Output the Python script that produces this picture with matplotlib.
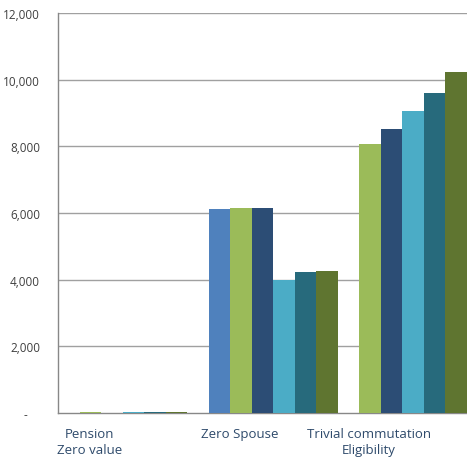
import numpy as np
import matplotlib
matplotlib.use("Agg")
import matplotlib.pyplot as plt
from matplotlib.ticker import FixedLocator, FuncFormatter

categories = ["Pension\nZero value", "Zero Spouse", "Trivial commutation\nEligibility"]
series_1 = [15, 6120, 0]
series_2 = [20, 6140, 8070]
series_3 = [15, 6150, 8530]
series_4 = [20, 3990, 9060]
series_5 = [30, 4220, 9600]
series_6 = [40, 4270, 10220]
y_ticks = [0, 2000, 4000, 6000, 8000, 10000, 12000]

series = [series_1, series_2, series_3, series_4, series_5, series_6]
colors = ["#4f81bd", "#9bbb59", "#2c4d75", "#4bacc6", "#276a7c", "#5f7530"]

plt.rcParams["font.family"] = ["Open Sans", "DejaVu Sans"]

fig = plt.figure(figsize=(4.67, 4.60), dpi=100)
ax = fig.add_axes([58 / 467, 46 / 460, 409 / 467, 400 / 460])

# each group occupies one slot per series; groups are packed left to right
n = len(series)
group_start = np.array([0.0, n + 1.0, 2 * n + 1.0])
for i, (vals, c) in enumerate(zip(series, colors)):
    ax.bar(group_start + i, vals, width=1.0, align="edge", color=c,
           edgecolor="none", zorder=3)

ax.set_xlim(0, group_start[-1] + n)
ax.set_ylim(0, 12000)

for v in y_ticks[1:]:
    ax.axhline(v, color="#a0a0a0", linewidth=1.0, zorder=1)

ax.yaxis.set_major_locator(FixedLocator(y_ticks))
ax.yaxis.set_major_formatter(FuncFormatter(lambda v, p: "-    " if v == 0 else f"{v:,.0f}"))
ax.tick_params(axis="y", length=0, pad=13, labelsize=8.5, labelcolor="#404040")

ax.set_xticks(group_start + 1.45)
ax.set_xticklabels(categories, linespacing=1.35)
ax.tick_params(axis="x", length=0, pad=10, labelsize=9.5, labelcolor="#2e4a6b")

for s in ["top", "right"]:
    ax.spines[s].set_visible(False)
for s in ["left", "bottom"]:
    ax.spines[s].set_color("#888888")
    ax.spines[s].set_linewidth(1.0)

fig.savefig("out.png", dpi=100)
